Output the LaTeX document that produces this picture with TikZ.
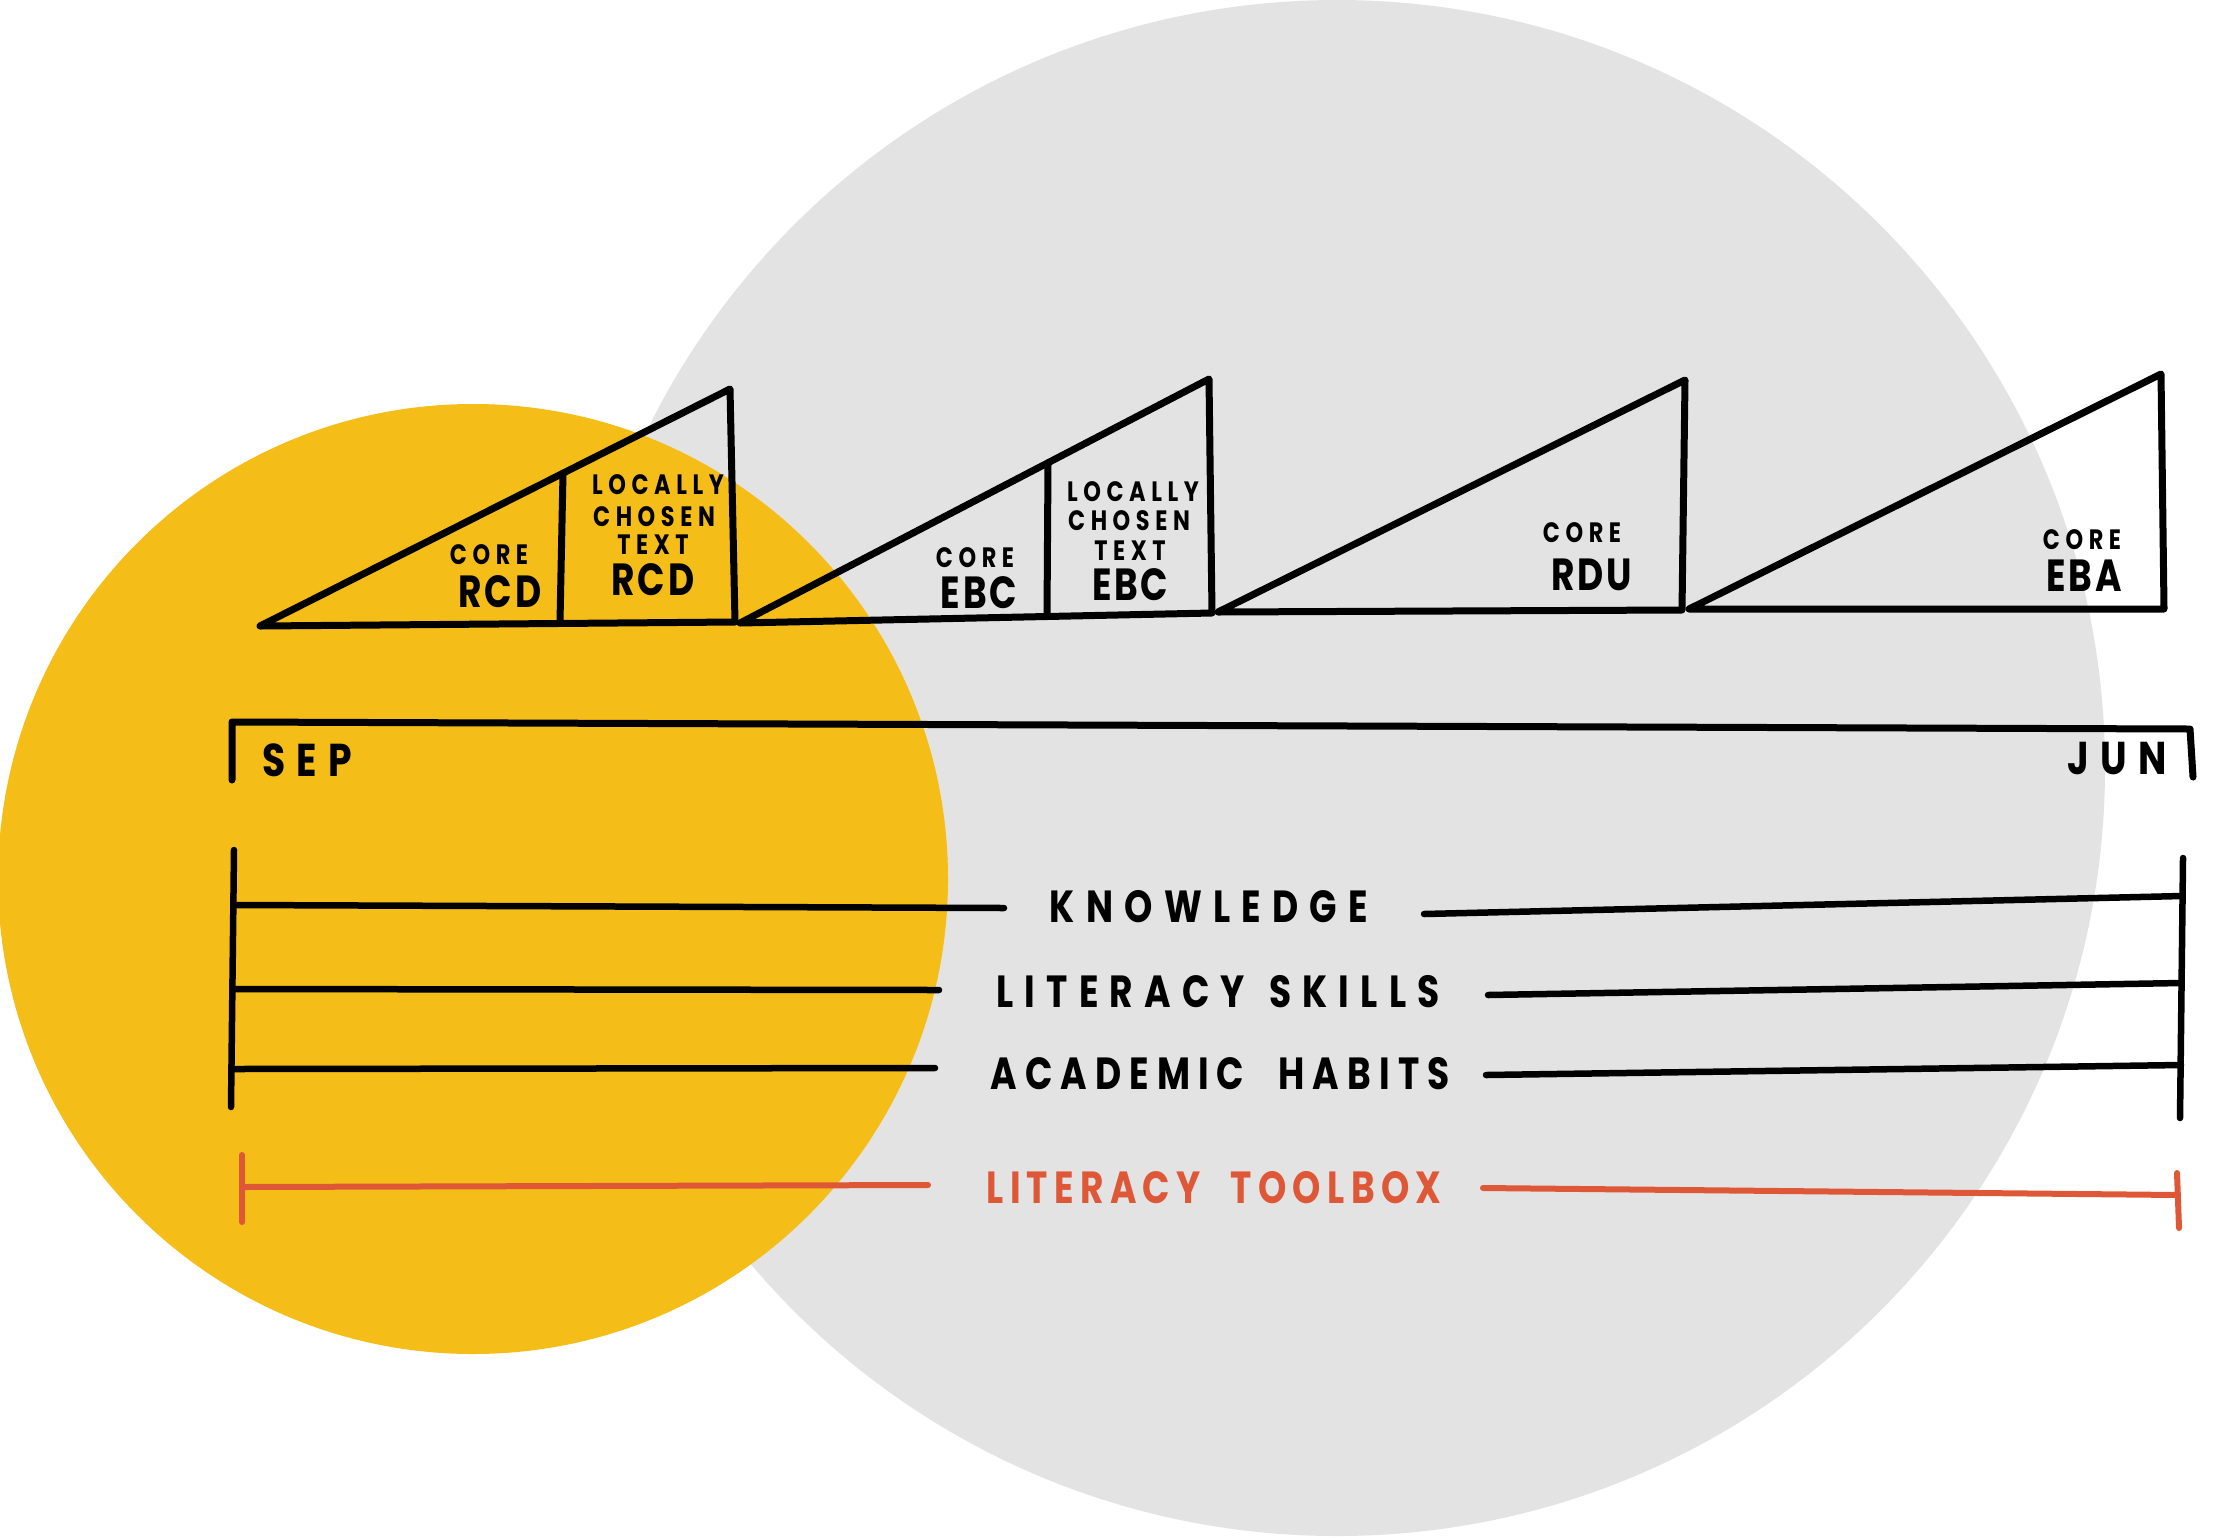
\documentclass[tikz,border=0pt]{standalone}
\usepackage{fontspec}
\newfontfamily\handwide{Poppins}[FakeStretch=0.8, LetterSpace=20]
\newfontfamily\handlbl{Poppins}[FakeStretch=0.8, LetterSpace=25]
\newfontfamily\handacad{Poppins}[FakeStretch=0.8, LetterSpace=18]
\newfontfamily\handtool{Poppins}[FakeStretch=0.8, LetterSpace=14]
\newfontfamily\handmid{Poppins}[FakeStretch=0.82, LetterSpace=24]
\newfontfamily\handtight{Poppins}[FakeStretch=0.8, LetterSpace=6]
\definecolor{myyellow}{HTML}{F5BD17}
\definecolor{mygray}{HTML}{E3E3E3}
\definecolor{myred}{HTML}{DE5838}
\begin{document}
\begin{tikzpicture}[x=1pt,y=-1pt,
  ink/.style={line width=7pt, line cap=round, line join=round, draw=black},
  rowink/.style={line width=6.5pt, line cap=round, draw=black},
  redink/.style={line width=6pt, line cap=round, draw=myred},
  lbl/.style={font=\handlbl\bfseries\fontsize{45}{45}\selectfont, inner sep=0pt, anchor=center},
  acadlbl/.style={font=\handacad\bfseries\fontsize{45}{45}\selectfont, inner sep=0pt, anchor=center},
  toollbl/.style={font=\handtool\bfseries\fontsize{45}{45}\selectfont, inner sep=0pt, anchor=center, text=myred},
  tsmall/.style={font=\handwide\bfseries\fontsize{28}{28}\selectfont, inner sep=0pt, anchor=center},
  tbig/.style={font=\handtight\bfseries\fontsize{45}{45}\selectfont, inner sep=0pt, anchor=center},
  month/.style={font=\handmid\bfseries\fontsize{46}{46}\selectfont, inner sep=0pt, anchor=center},
]
\useasboundingbox (0,0) rectangle (2215,1537);
% background circles
\fill[mygray] (1337,768) circle[radius=768];
\fill[myyellow] (473,879) circle[radius=475];

% triangles
\coordinate (t1a) at (260,626); \coordinate (t1b) at (730,389); \coordinate (t1c) at (735,622);
\coordinate (d1t) at (563,473); \coordinate (d1b) at (560,622);
\coordinate (t2a) at (740,623); \coordinate (t2b) at (1209,379); \coordinate (t2c) at (1212,613);
\coordinate (d2t) at (1048,463); \coordinate (d2b) at (1047,616);
\coordinate (t3a) at (1218,612); \coordinate (t3b) at (1685,380); \coordinate (t3c) at (1682,610);
\coordinate (t4a) at (1689,609); \coordinate (t4b) at (2161,374); \coordinate (t4c) at (2164,609);

\draw[ink] (t1a) -- (t1b) -- (t1c) -- cycle;
\draw[ink] (d1t) -- (d1b);
\draw[ink] (t2a) -- (t2b) -- (t2c) -- cycle;
\draw[ink] (d2t) -- (d2b);
\draw[ink] (t3a) -- (t3b) -- (t3c) -- cycle;
\draw[ink] (t4a) -- (t4b) -- (t4c) -- cycle;

% triangle texts
\node[tsmall] (c1) at (489,555) {CORE};
\node[tbig] (r1) at (500,592) {RCD};
\node[tsmall] (l1a) at (658,485) {LOCALLY};
\node[tsmall] (l1b) at (654,517) {CHOSEN};
\node[tsmall] (l1c) at (653,545) {TEXT};
\node[tbig] (l1d) at (653,580) {RCD};

\node[tsmall] (c2) at (975,558) {CORE};
\node[tbig] (r2) at (979,593) {EBC};
\node[tsmall] (l2a) at (1133,492) {LOCALLY};
\node[tsmall] (l2b) at (1129,521) {CHOSEN};
\node[tsmall] (l2c) at (1130,551) {TEXT};
\node[tbig] (l2d) at (1130,585) {EBC};

\node[tsmall] (c3) at (1582,533) {CORE};
\node[tbig] (r3) at (1592,575) {RDU};
\node[tsmall] (c4) at (2082,540) {CORE};
\node[tbig] (r4) at (2084,576) {EBA};

% timeline bracket
\coordinate (sepb) at (232,780); \coordinate (sept) at (232,722);
\coordinate (junt) at (2190,729); \coordinate (junb) at (2193,777);
\draw[ink] (sepb) -- (sept) -- (junt) -- (junb);
\node[month] (sep) at (307,760) {SEP};
\node[month] (jun) at (2117,759) {JUN};

% rows
\coordinate (lvt) at (234,850); \coordinate (lvb) at (231,1107);
\coordinate (rvt) at (2183,858); \coordinate (rvb) at (2180,1118);
\draw[rowink] (lvt) -- (lvb);
\draw[rowink] (rvt) -- (rvb);

\node[lbl] (know) at (1209,907) {KNOWLEDGE};
\node[lbl] (lit) at (1218,992) {LITERACY\hspace{24pt}SKILLS};
\node[acadlbl] (acad) at (1220,1074) {ACADEMIC\hspace{34pt}HABITS};
\node[toollbl] (tool) at (1214,1188) {LITERACY\hspace{30pt}TOOLBOX};

\coordinate (k1) at (234,905); \coordinate (k2) at (1004,908);
\coordinate (k3) at (1424,914); \coordinate (k4) at (2182,896);
\draw[rowink] (k1) -- (k2);
\draw[rowink] (k3) -- (k4);

\coordinate (s1) at (233,989); \coordinate (s2) at (939,990);
\coordinate (s3) at (1488,995); \coordinate (s4) at (2181,983);
\draw[rowink] (s1) -- (s2);
\draw[rowink] (s3) -- (s4);

\coordinate (a1) at (232,1069); \coordinate (a2) at (935,1068);
\coordinate (a3) at (1486,1075); \coordinate (a4) at (2181,1065);
\draw[rowink] (a1) -- (a2);
\draw[rowink] (a3) -- (a4);

% literacy toolbox
\coordinate (rlt) at (242,1155); \coordinate (rlb) at (242,1222);
\coordinate (rl1) at (242,1187); \coordinate (rl2) at (928,1185);
\coordinate (rr1) at (1483,1188); \coordinate (rr2) at (2178,1195);
\coordinate (rrt) at (2177,1173); \coordinate (rrb) at (2179,1228);
\draw[redink] (rlt) -- (rlb);
\draw[redink] (rl1) -- (rl2);
\draw[redink] (rr1) -- (rr2);
\draw[redink] (rrt) -- (rrb);
\end{tikzpicture}
\end{document}
